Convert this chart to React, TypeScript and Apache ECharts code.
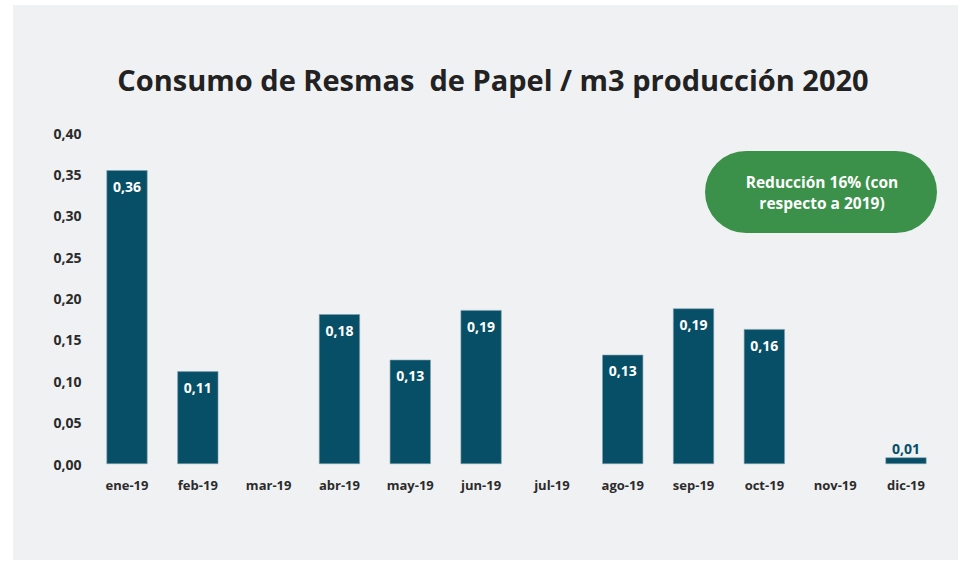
import React, { useEffect, useRef } from "react";
import * as echarts from "echarts";

const categories = ["ene-19","feb-19","mar-19","abr-19","may-19","jun-19","jul-19","ago-19","sep-19","oct-19","nov-19","dic-19"];
const values: (number | null)[] = [0.355, 0.112, null, 0.181, 0.126, 0.186, null, 0.132, 0.188, 0.163, null, 0.008];
const titleText = "Consumo de Resmas  de Papel / m3 producción 2020";
const noteLines = ["Reducción 16% (con", "respecto a 2019)"];

const FONT = "'Open Sans', 'Noto Sans', sans-serif";
const BAR = "#074f66";

export default function App() {
  const ref = useRef<HTMLDivElement>(null);
  useEffect(() => {
    if (!ref.current) return;
    const chart = echarts.init(ref.current, null, { renderer: "svg" });
    const fmt = (v: number) => v.toFixed(2).replace(".", ",");
    chart.setOption({
      animation: false,
      backgroundColor: "#ffffff",
      textStyle: { fontFamily: FONT },
      title: {
        text: titleText,
        left: 488,
        textAlign: "center",
        top: 60,
        textStyle: { fontFamily: FONT, fontSize: 29, fontWeight: "bold", color: "#222222" },
      },
      graphic: [
        { type: "rect", z: -10, shape: { x: 13, y: 5, width: 945, height: 555 }, style: { fill: "#f0f1f3" } },
        { type: "rect", shape: { x: 705, y: 151, width: 232, height: 82, r: 41 }, style: { fill: "#3b914a" } },
        {
          type: "text",
          x: 822,
          y: 192,
          style: {
            text: noteLines.join("\n"),
            fill: "#ffffff",
            font: `bold 15.5px ${FONT}`,
            align: "center",
            verticalAlign: "middle",
            lineHeight: 21,
          },
        },
      ],
      grid: { left: 91.6, right: 16.6, top: 133, bottom: 97, containLabel: false },
      xAxis: {
        type: "category",
        data: categories,
        axisLine: { show: false },
        axisTick: { show: false },
        axisLabel: { margin: 14, fontFamily: FONT, fontSize: 13, fontWeight: "bold", color: "#2b2b2b" },
      },
      yAxis: {
        type: "value",
        min: 0,
        max: 0.4,
        interval: 0.05,
        splitLine: { show: false },
        axisLine: { show: false },
        axisTick: { show: false },
        axisLabel: {
          margin: 10,
          fontFamily: FONT,
          fontSize: 14,
          fontWeight: "bold",
          color: "#2b2b2b",
          formatter: (v: number) => fmt(v),
        },
      },
      series: [
        {
          type: "bar",
          barWidth: 41,
          data: values.map((v) =>
            v === null
              ? null
              : v < 0.03
              ? { value: v, label: { position: "top", color: BAR, distance: 2 } }
              : v
          ),
          itemStyle: { color: BAR, borderColor: "#7f9fae", borderWidth: 0.6 },
          label: {
            show: true,
            position: "insideTop",
            distance: 9,
            color: "#ffffff",
            fontFamily: FONT,
            fontSize: 14,
            fontWeight: "bold",
            formatter: (p: any) => fmt(Math.round(p.value * 100) / 100),
          },
        },
      ],
    });
    return () => chart.dispose();
  }, []);
  return <div ref={ref} style={{ position: "fixed", left: 0, top: 0, width: 958, height: 561 }} />;
}
